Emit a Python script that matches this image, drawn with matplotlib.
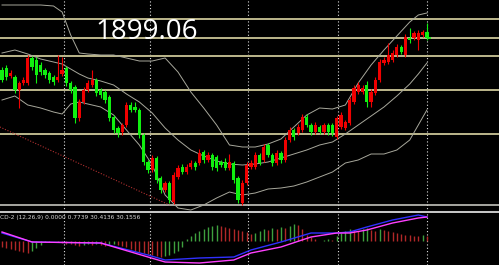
import numpy as np
import matplotlib
matplotlib.use('Agg')
import matplotlib.pyplot as plt

# ---------------- data ----------------
# candles (price), oldest -> newest
opens = [1867, 1869, 1861, 1860, 1847, 1854, 1854, 1879, 1877, 1872,
         1867, 1864, 1860, 1857, 1863, 1869, 1854, 1850, 1819, 1835,
         1847, 1852, 1857, 1847, 1845, 1840, 1820, 1809, 1805, 1812,
         1832, 1830, 1827, 1802, 1775, 1767, 1779, 1759, 1747, 1754,
         1735, 1760, 1770, 1765, 1770, 1774, 1774, 1785, 1777, 1782,
         1780, 1775, 1775, 1769, 1774, 1759, 1734, 1754, 1770, 1770,
         1782, 1777, 1792, 1782, 1774, 1784, 1777, 1797, 1807, 1804,
         1807, 1820, 1812, 1805, 1810, 1805, 1812, 1812, 1800, 1810,
         1809, 1814, 1835, 1845, 1845, 1852, 1835, 1844, 1857, 1874,
         1875, 1877, 1882, 1890, 1882, 1899, 1899, 1897, 1902, 1905]
closes = [1857, 1860, 1864, 1847, 1854, 1857, 1879, 1870, 1862, 1865,
          1862, 1857, 1855, 1860, 1867, 1854, 1847, 1819, 1835, 1847,
          1854, 1857, 1844, 1842, 1837, 1819, 1807, 1804, 1812, 1832,
          1827, 1827, 1802, 1775, 1767, 1779, 1757, 1747, 1754, 1737,
          1762, 1769, 1765, 1770, 1774, 1770, 1784, 1777, 1782, 1770,
          1769, 1772, 1769, 1775, 1757, 1737, 1754, 1772, 1774, 1782,
          1774, 1790, 1782, 1774, 1784, 1777, 1797, 1807, 1800, 1810,
          1820, 1812, 1805, 1812, 1805, 1812, 1805, 1804, 1819, 1822,
          1815, 1837, 1849, 1852, 1849, 1835, 1845, 1857, 1875, 1877,
          1882, 1884, 1890, 1885, 1900, 1897, 1904, 1904, 1905, 1899.06]
highs = [1870, 1872, 1867, 1862, 1856, 1860, 1882, 1881, 1880, 1875,
         1869, 1866, 1862, 1882, 1880, 1871, 1856, 1852, 1838, 1850,
         1857, 1867, 1859, 1849, 1847, 1842, 1822, 1811, 1814, 1835,
         1835, 1835, 1829, 1804, 1777, 1782, 1781, 1761, 1756, 1756,
         1765, 1772, 1773, 1773, 1777, 1776, 1788, 1787, 1785, 1784,
         1782, 1777, 1779, 1783, 1776, 1761, 1757, 1775, 1777, 1785,
         1784, 1793, 1794, 1784, 1787, 1786, 1800, 1810, 1809, 1813,
         1823, 1823, 1814, 1815, 1812, 1814, 1814, 1814, 1821, 1825,
         1817, 1840, 1852, 1855, 1852, 1856, 1848, 1860, 1878, 1880,
         1894, 1887, 1893, 1892, 1903, 1909, 1906, 1907, 1907, 1914]
lows = [1855, 1857, 1859, 1844, 1829, 1852, 1852, 1867, 1854, 1862,
        1859, 1854, 1852, 1855, 1861, 1851, 1844, 1814, 1816, 1833,
        1845, 1850, 1841, 1839, 1834, 1816, 1804, 1800, 1802, 1810,
        1825, 1825, 1799, 1772, 1764, 1765, 1754, 1744, 1745, 1734,
        1733, 1758, 1763, 1763, 1768, 1767, 1772, 1774, 1775, 1767,
        1766, 1770, 1767, 1767, 1754, 1734, 1732, 1752, 1768, 1768,
        1772, 1775, 1780, 1771, 1772, 1774, 1775, 1795, 1797, 1802,
        1805, 1810, 1802, 1803, 1803, 1803, 1802, 1801, 1798, 1808,
        1807, 1812, 1833, 1843, 1843, 1830, 1830, 1842, 1855, 1872,
        1873, 1875, 1880, 1883, 1880, 1894, 1897, 1887, 1900, 1897]

# bollinger bands, sampled at candle index
band_idx = [0, 3, 6, 9, 12, 14, 16, 18, 20, 23, 26, 29, 32, 35, 38, 41, 44, 47,
            50, 53, 56, 59, 62, 65, 68, 71, 74, 77, 80, 83, 86, 89, 92, 95, 97, 99]
bb_upper = [1932, 1932, 1932, 1932, 1931, 1925, 1902, 1884, 1883, 1882, 1882, 1879,
            1876, 1876, 1879, 1865, 1845, 1829, 1812, 1792, 1790, 1790, 1793, 1798,
            1810, 1822, 1829, 1828, 1832, 1854, 1872, 1887, 1901, 1915, 1922, 1924]
bb_mid = [1884, 1887, 1883, 1878, 1875, 1873, 1868, 1863, 1859, 1856, 1852, 1843,
          1835, 1824, 1809, 1797, 1787, 1781, 1776, 1773, 1772, 1773, 1775, 1779,
          1783, 1787, 1792, 1795, 1803, 1812, 1821, 1830, 1841, 1853, 1863, 1874]
bb_lower = [1837, 1841, 1832, 1829, 1825, 1823, 1833, 1835, 1833, 1830, 1822, 1807,
            1792, 1772, 1742, 1729, 1727, 1732, 1739, 1745, 1742, 1744, 1748, 1749,
            1751, 1755, 1760, 1765, 1774, 1777, 1783, 1783, 1787, 1797, 1812, 1827]

# horizontal levels drawn on the chart
levels = [1918, 1899, 1881, 1847, 1803]
bottom_level = 1732
# vertical separators (candle index)
vsep = [14.5, 34.5, 57.3, 78.2, 99]
# red dotted trend line
trend_x = [-0.5, 39]
trend_y = [1810, 1732]

last_price = '1899.06'

# MACD panel
macd_idx = [0, 7, 23, 34, 38, 46, 54, 58, 65, 72, 78, 81, 85, 91, 97, 99]
macd_main = [9, -1, -2, -16, -21, -22, -19, -12, -6, 4, 8, 8, 11, 18, 23, 24]
macd_sig = [8, -1, -2, -14, -19, -17, -16, -9, -1, 8, 8, 9, 14, 21, 26, 24]
macd_hist = [-6, -7, -8, -9, -10, -11, -12, -10, -7, -4,
             -1, -1, 0, -1, -2, -3, -3, -4, -5, -4,
             -3, -4, -3, -4, -5, -4, -3, -4, -5, -6,
             -8, -10, -11, -12, -13, -14, -15, -16, -15, -14,
             -12, -10, -6, 2, 5, 8, 10, 12, 14, 15,
             16, 15, 14, 13, 12, 11, 10, 9, 7, 8,
             10, 12, 11, 13, 12, 14, 13, 15, 17, 16,
             12, 6, 4, 2, 0, 1, 2, 1, 5, 8,
             10, 12, 11, 10, 12, 13, 11, 10, 12, 11,
             10, 9, 8, 7, 6, 6, 5, 5, 6, 5]
macd_label = 'CD-2 (12,26,9) 0.0000 0.7739 30.4136 30.1556'

# ---------------- drawing ----------------
UP = '#f00000'
DOWN = '#10f010'
BAND = '#a8a89c'
LEVEL = '#bdb88c'

n = len(opens)
x = np.arange(n)

fig = plt.figure(figsize=(4.99, 2.65), dpi=100, facecolor='black')
ax = fig.add_axes([0, 53 / 265, 1, 212 / 265], facecolor='black')
ax2 = fig.add_axes([0, 0, 1, 52 / 265], facecolor='black')

for a in (ax, ax2):
    a.set_xlim(-0.47, 115.8)
    a.set_xticks([])
    a.set_yticks([])
    for s in a.spines.values():
        s.set_visible(False)
    for v in vsep:
        a.axvline(v, color='#e0e0e0', lw=0.8, ls=(0, (1, 2)), zorder=1)

ax.set_ylim(1725, 1937)
ax2.set_ylim(-24, 28)

# levels
for lv in levels:
    ax.axhline(lv, color=LEVEL, lw=1.4, zorder=2)
ax.axhline(bottom_level, color='#d4d4cc', lw=1.1, zorder=2)
ax.spines['bottom'].set_visible(True)
ax.spines['bottom'].set_color('#c4c4c4')
ax.spines['bottom'].set_linewidth(2.2)

# trend line
ax.plot(trend_x, trend_y, color='#b03030', lw=0.8, ls=(0, (1, 1.5)), zorder=2)

# bands
ax.plot(band_idx, bb_upper, color=BAND, lw=0.7, zorder=3)
ax.plot(band_idx, bb_mid, color=BAND, lw=0.7, zorder=3)
ax.plot(band_idx, bb_lower, color=BAND, lw=0.7, zorder=3)

# candles
for i in range(n):
    c = UP if closes[i] > opens[i] else DOWN
    ax.vlines(x[i], lows[i], highs[i], color=c, lw=0.8, zorder=4)
    lo, hi = sorted([opens[i], closes[i]])
    ax.bar(x[i], max(hi - lo, 0.8), bottom=lo, width=0.75, color=c,
           edgecolor=c, lw=0, zorder=5)

# current price marker
ax.hlines(closes[-1], n - 1 + 0.3, n - 1 + 1.0, color=DOWN, lw=1.2, zorder=5)

ax.text(95 / 499, 1 - 39 / 212, last_price, transform=ax.transAxes,
        color='white', fontsize=20, family='Open Sans', va='baseline',
        ha='left', zorder=6)

# MACD
for i in range(n):
    c = '#3ea03e' if i > 0 and macd_hist[i] > macd_hist[i - 1] else '#b02828'
    ax2.vlines(x[i], 0, macd_hist[i], color=c, lw=1.0, zorder=2)
ax2.plot(macd_idx, macd_sig, color='#3030ff', lw=1.0, zorder=3)
ax2.plot(macd_idx, macd_main, color='#ff40ff', lw=1.0, zorder=4)
ax2.text(0, 1 - 4 / 52, macd_label, transform=ax2.transAxes, color='#d8d8d8',
         fontsize=4.2, va='center', ha='left')

fig.savefig('out.png', dpi=100, facecolor='black')
